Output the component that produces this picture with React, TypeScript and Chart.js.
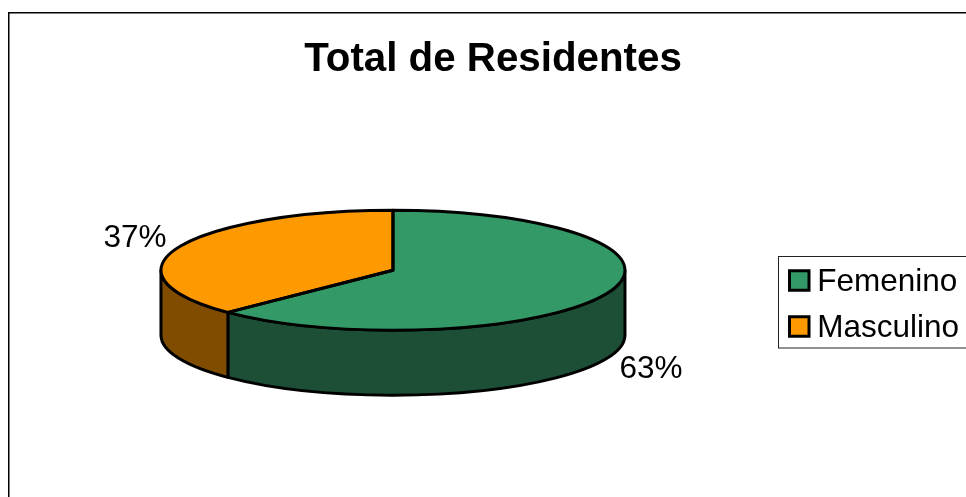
import React, { useEffect, useRef } from "react";
import { Chart, registerables } from "chart.js";

Chart.register(...registerables);

const chartTitle = "Total de Residentes";
const categories = ["Femenino", "Masculino"];
const shares = [62.6, 37.4];
const topColors = ["#339966", "#FF9900"];
const sideColors = ["#1C4F36", "#804D00"];

const FONT = "'Liberation Sans', Arial, sans-serif";
const FONT_SIZE = 31.5;
const RADIUS_X = 232;
const RADIUS_Y = 60;
const DEPTH = 65;
const LINE = 3;

const pie3d = {
  id: "pie3d",
  afterLayout(chart: any) {
    const legend = chart.legend;
    const dx = 769 - legend.left;
    const dy = 252 - legend.top;
    legend.left += dx;
    legend.right += dx;
    legend.top += dy;
    legend.bottom += dy;
    legend.legendHitBoxes.forEach((h: any) => {
      h.left += dx;
      h.top += dy;
    });
  },
  beforeDraw(chart: any) {
    const { ctx } = chart;
    ctx.save();
    ctx.strokeStyle = "#000";
    ctx.lineWidth = 1.5;
    ctx.beginPath();
    ctx.moveTo(8.75, 510);
    ctx.lineTo(8.75, 12.75);
    ctx.lineTo(980, 12.75);
    ctx.stroke();
    ctx.strokeStyle = "#222";
    ctx.lineWidth = 1;
    ctx.strokeRect(778.5, 256.5, 220, 91.5);
    ctx.restore();
  },
  beforeDatasetsDraw(chart: any) {
    const { ctx } = chart;
    const arcs = chart.getDatasetMeta(0).data;
    const { x: cx, y: cy } = arcs[0];
    ctx.save();
    ctx.lineWidth = LINE;
    ctx.strokeStyle = "#000";
    ctx.lineJoin = "round";
    arcs.forEach((arc: any, i: number) => {
      const s = Math.max(arc.startAngle, 0);
      const e = Math.min(arc.endAngle, Math.PI);
      if (e <= s) return;
      ctx.beginPath();
      ctx.ellipse(cx, cy, RADIUS_X, RADIUS_Y, 0, s, e);
      ctx.ellipse(cx, cy + DEPTH, RADIUS_X, RADIUS_Y, 0, e, s, true);
      ctx.closePath();
      ctx.fillStyle = sideColors[i];
      ctx.fill();
      ctx.stroke();
    });
    ctx.restore();
    ctx.save();
    ctx.translate(cx, cy);
    ctx.scale(1, RADIUS_Y / RADIUS_X);
    ctx.translate(-cx, -cy);
  },
  afterDatasetsDraw(chart: any) {
    const { ctx } = chart;
    ctx.restore();
    const arcs = chart.getDatasetMeta(0).data;
    const { x: cx, y: cy } = arcs[0];
    ctx.save();
    ctx.lineWidth = LINE;
    ctx.strokeStyle = "#000";
    ctx.lineJoin = "round";
    arcs.forEach((arc: any) => {
      ctx.beginPath();
      ctx.moveTo(cx, cy);
      ctx.ellipse(cx, cy, RADIUS_X, RADIUS_Y, 0, arc.startAngle, arc.endAngle);
      ctx.closePath();
      ctx.stroke();
    });
    ctx.fillStyle = "#000";
    ctx.font = `${FONT_SIZE}px ${FONT}`;
    ctx.textAlign = "center";
    ctx.textBaseline = "middle";
    arcs.forEach((arc: any, i: number) => {
      const mid = (arc.startAngle + arc.endAngle) / 2;
      const cos = Math.cos(mid);
      const sin = Math.sin(mid);
      const x = cx + RADIUS_X * cos + Math.sign(cos) * 44;
      const y = cy + RADIUS_Y * sin + (sin > 0 ? DEPTH + 11 : -9);
      ctx.fillText(`${Math.round(shares[i])}%`, x, y);
    });
    ctx.restore();
  },
  afterDraw(chart: any) {
    const { ctx } = chart;
    ctx.save();
    ctx.lineWidth = LINE;
    ctx.strokeStyle = "#000";
    chart.legend.legendHitBoxes.forEach((h: any, i: number) => {
      const mid = h.top + h.height / 2;
      ctx.fillStyle = topColors[i];
      ctx.fillRect(789.5, mid - 11.5, 19.5, 19.5);
      ctx.strokeRect(789.5, mid - 11.5, 19.5, 19.5);
    });
    ctx.restore();
  },
};

export default function App() {
  const ref = useRef<HTMLCanvasElement>(null);
  useEffect(() => {
    const chart = new Chart(ref.current as HTMLCanvasElement, {
      type: "pie",
      data: {
        labels: categories,
        datasets: [
          {
            data: shares,
            backgroundColor: topColors,
            borderWidth: 0,
            clip: false,
          } as any,
        ],
      },
      options: {
        responsive: false,
        animation: false,
        radius: RADIUS_X,
        layout: { padding: { left: 20, right: 0, top: 16, bottom: 41 } },
        plugins: {
          title: {
            display: true,
            text: chartTitle,
            color: "#000",
            font: { family: FONT, size: 40.3, weight: "bold", lineHeight: 1.2 },
            padding: { top: 20, bottom: 0 },
          },
          legend: {
            display: true,
            position: "right",
            align: "start",
            labels: {
              color: "#000",
              boxWidth: 18,
              boxHeight: 12,
              padding: 14.5,
              font: { family: FONT, size: FONT_SIZE },
              generateLabels: (c: any) =>
                c.data.labels.map((text: string, index: number) => ({
                  text,
                  index,
                  fillStyle: "transparent",
                  strokeStyle: "transparent",
                  lineWidth: 0,
                  fontColor: "#000",
                })),
            },
          },
          tooltip: { enabled: false },
        },
      } as any,
      plugins: [pie3d],
    });
    return () => chart.destroy();
  }, []);
  return (
    <canvas
      ref={ref}
      width={966}
      height={497}
      style={{ position: "fixed", left: 0, top: 0, display: "block" }}
    />
  );
}
